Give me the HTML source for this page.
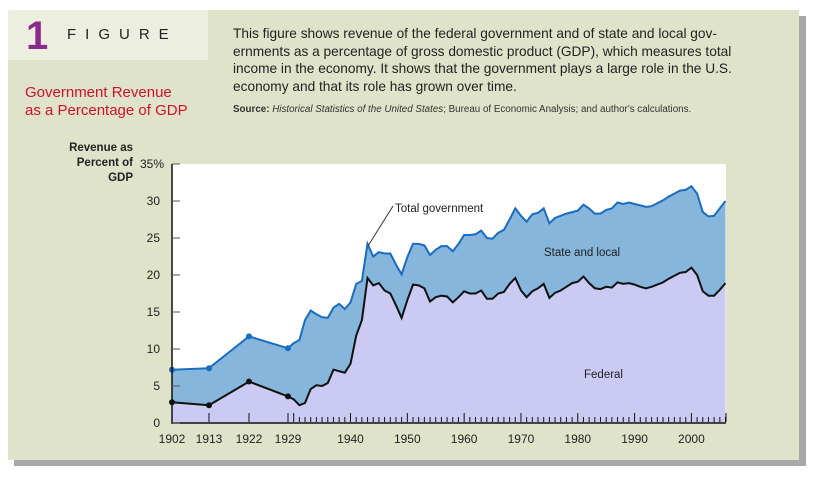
<!DOCTYPE html>
<html><head><meta charset="utf-8"><style>
body{margin:0;width:826px;height:477px;background:#fff;position:relative;overflow:hidden;font-family:"Liberation Sans",sans-serif}
#shadow{position:absolute;left:14px;top:16px;width:792px;height:450px;background:#a8a8a8}
#panel{position:absolute;left:8px;top:10px;width:791px;height:450px;background:#dfe3c9}
#corner{position:absolute;left:8px;top:10px;width:200px;height:50px;background:#eceee0}
.t{position:absolute;white-space:nowrap}
</style></head><body>
<div id="shadow"></div>
<div id="panel"></div>
<div id="corner"></div>
<div class="t" style="left:26px;top:14px;font-size:40px;font-weight:bold;color:#8a2a8a;line-height:44px">1</div>
<div class="t" style="left:67px;top:26px;font-size:15px;letter-spacing:9px;color:#222">FIGURE</div>
<div class="t" style="left:25px;top:84px;font-size:15px;color:#d01030;line-height:18px">Government Revenue<br>as a Percentage of GDP</div>
<div class="t" style="left:233px;top:25px;font-size:13.7px;color:#222;line-height:17.5px">This figure shows revenue of the federal government and of state and local gov-<br>ernments as a percentage of gross domestic product (GDP), which measures total<br>income in the economy. It shows that the government plays a large role in the U.S.<br>economy and that its role has grown over time.</div>
<div class="t" style="left:233px;top:104px;font-size:9.8px;color:#333"><b>Source:</b> <i>Historical Statistics of the United States</i>; Bureau of Economic Analysis; and author's calculations.</div>
<svg id="chart" width="826" height="477" style="position:absolute;left:0;top:0"></svg>
<script>
const years=[1902,1913,1922,1929,1930,1931,1932,1933,1934,1935,1936,1937,1938,1939,1940,1941,1942,1943,1944,1945,1946,1947,1948,1949,1950,1951,1952,1953,1954,1955,1956,1957,1958,1959,1960,1961,1962,1963,1964,1965,1966,1967,1968,1969,1970,1971,1972,1973,1974,1975,1976,1977,1978,1979,1980,1981,1982,1983,1984,1985,1986,1987,1988,1989,1990,1991,1992,1993,1994,1995,1996,1997,1998,1999,2000,2001,2002,2003,2004,2005,2006];
const totalGov=[7.2,7.4,11.7,10.1,10.8,11.2,13.9,15.2,14.7,14.3,14.2,15.6,16.1,15.4,16.3,18.8,19.2,24.2,22.5,23.1,22.9,22.9,21.4,20.1,22.4,24.2,24.2,24.0,22.7,23.4,23.9,23.9,23.2,24.2,25.4,25.4,25.5,26.0,25.0,24.9,25.7,26.1,27.5,29.0,28.0,27.2,28.2,28.4,29.0,27.0,27.7,28.0,28.3,28.5,28.7,29.5,29.0,28.3,28.3,28.8,29.0,29.8,29.6,29.8,29.6,29.4,29.2,29.3,29.7,30.1,30.6,31.0,31.4,31.5,32.0,31.0,28.5,27.9,28.0,29.0,30.0];
const federal=[2.8,2.4,5.6,3.6,3.2,2.4,2.7,4.6,5.1,5.0,5.4,7.2,7.0,6.8,8.0,11.8,13.9,19.6,18.6,18.9,17.9,17.5,15.9,14.2,16.6,18.7,18.6,18.2,16.4,17.0,17.2,17.1,16.3,17.0,17.8,17.5,17.5,17.9,16.8,16.8,17.5,17.7,18.8,19.6,17.9,17.0,17.8,18.2,18.8,16.9,17.6,17.9,18.4,18.9,19.1,19.8,18.9,18.2,18.1,18.4,18.3,19.0,18.8,18.9,18.7,18.4,18.2,18.4,18.7,19.0,19.5,19.9,20.3,20.4,21.0,20.0,17.8,17.2,17.2,18.0,18.9];
const yTicks=[0,5,10,15,20,25,30,35];
const xLabels=[1902,1913,1922,1929,1940,1950,1960,1970,1980,1990,2000];
const markedYears=[1902,1913,1922,1929];
const NS="http://www.w3.org/2000/svg",svg=document.getElementById('chart');
const bx=[1902,1913,1922,1929,2006],bp=[172,209,249,288,725.5];
function X(y){for(let i=0;i<bx.length-1;i++){if(y<=bx[i+1])return bp[i]+(y-bx[i])/(bx[i+1]-bx[i])*(bp[i+1]-bp[i]);}return bp[4];}
function Y(v){return 423-v*7.4;}
function el(t,a,p){const e=document.createElementNS(NS,t);for(const k in a)e.setAttribute(k,a[k]);(p||svg).appendChild(e);return e;}
const pl=el('rect',{x:172,y:164,width:554,height:259,fill:'#fff'});


const pts=a=>years.map((y,i)=>X(y).toFixed(1)+','+Y(a[i]).toFixed(1)).join(' ');
const st=el('polygon',{points:pts(totalGov)+' '+X(2006)+','+Y(0)+' '+X(1902)+','+Y(0),fill:'#86b6dc'});


const fa=el('polygon',{points:pts(federal)+' '+X(2006)+','+Y(0)+' '+X(1902)+','+Y(0),fill:'#cacaf2'});


const tl=el('polyline',{points:pts(totalGov),fill:'none',stroke:'#1a6cc0','stroke-width':2});


const fl=el('polyline',{points:pts(federal),fill:'none',stroke:'#111','stroke-width':2});


markedYears.forEach(y=>{const i=years.indexOf(y);
 const a=el('circle',{cx:X(y),cy:Y(totalGov[i]),r:3,fill:'#1a6cc0'});
 const b=el('circle',{cx:X(y),cy:Y(federal[i]),r:3,fill:'#111'});});
el('line',{x1:172,y1:164,x2:172,y2:424,stroke:'#111','stroke-width':1.5});
el('line',{x1:172,y1:423,x2:726,y2:423,stroke:'#111','stroke-width':1.5});
yTicks.forEach(v=>{el('line',{x1:172,y1:Y(v),x2:180,y2:Y(v),stroke:'#555'});
 const t=el('text',{x:v==35?164:160,y:Y(v)+4,'text-anchor':'end','font-size':12,fill:'#222'});t.textContent=v==35?'35%':v;
 });
for(let y=1929;y<=2006;y++){const maj=y%10==0;el('line',{x1:X(y),y1:422,x2:X(y),y2:maj?413:417,stroke:'#111'});}
markedYears.forEach(y=>el('line',{x1:X(y),y1:422,x2:X(y),y2:413,stroke:'#111'}));
el('line',{x1:726,y1:422,x2:726,y2:413,stroke:'#111'});
xLabels.forEach(y=>{const t=el('text',{x:X(y),y:443,'text-anchor':'middle','font-size':12,fill:'#222'});t.textContent=y;
 });
function lab(x,y,s,n,anc,w){const t=el('text',{x:x,y:y,'font-size':11.5,fill:'#222','text-anchor':anc||'start','font-weight':w||'normal'});t.textContent=s;}
lab(133,151,'Revenue as','y-axis-title','end','bold');
lab(133,166,'Percent of','y-axis-title','end','bold');
lab(133,181,'GDP','y-axis-title','end','bold');
lab(395,212,'Total government','total-government-label');
el('line',{x1:393,y1:206,x2:368,y2:246,stroke:'#333'});
lab(544,256,'State and local','state-local-label');
lab(584,378,'Federal','federal-label');
</script>
</body></html>
